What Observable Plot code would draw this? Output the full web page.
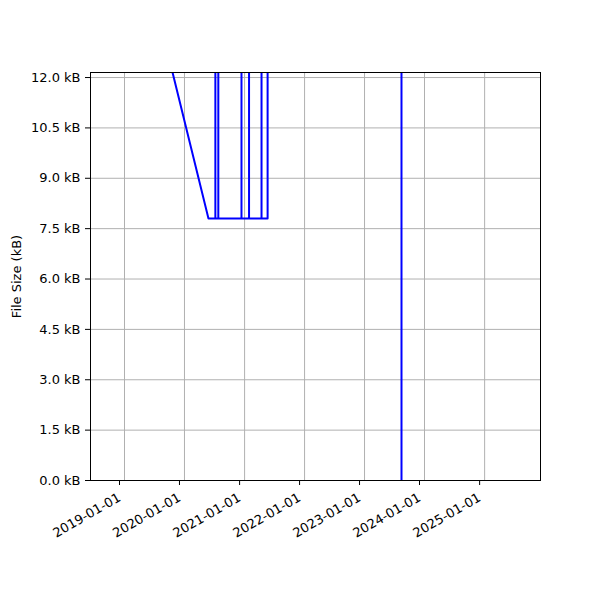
<!DOCTYPE html>
<html>
<head>
<meta charset="utf-8">
<script src="https://cdn.jsdelivr.net/npm/d3@7"></script>
<script src="https://cdn.jsdelivr.net/npm/@observablehq/plot@0.6"></script>
<style>
  html, body { margin: 0; padding: 0; background: #fff; }
  #chart { width: 600px; height: 600px; }
</style>
</head>
<body>
<div id="chart"></div>
<script>
// Commit dates and file sizes (kB); very large values run off the top
const dates = ["2018-10-11","2020-05-26",
  "2020-07-07","2020-07-07","2020-07-07",
  "2020-07-25","2020-07-25","2020-07-25",
  "2020-12-13","2020-12-13","2020-12-13",
  "2021-01-28","2021-01-28","2021-01-28",
  "2021-04-14","2021-04-14","2021-04-14",
  "2021-05-21","2021-05-21","2023-08-14"];
const sizes = [19.6, 7.8,
  7.8, 1000, 7.8,
  7.8, 1000, 7.8,
  7.8, 1000, 7.8,
  7.8, 1000, 7.8,
  7.8, 1000, 7.8,
  7.8, 100000, 0];
const yTicks = [0, 1.5, 3, 4.5, 6, 7.5, 9, 10.5, 12];
const xTicks = ["2019-01-01","2020-01-01","2021-01-01","2022-01-01","2023-01-01","2024-01-01","2025-01-01"];
const xDomain = ["2018-06-08", "2025-12-07"];
const yDomain = [0, 12.15];

const data = dates.map((d, i) => ({date: new Date(d + "T00:00:00Z"), size: sizes[i]}));
const fmtDate = d3.utcFormat("%Y-%m-%d");

const chart = Plot.plot({
  width: 600,
  height: 600,
  marginLeft: 90,
  marginRight: 60,
  marginTop: 72,
  marginBottom: 120,
  style: {fontFamily: "'DejaVu Sans', sans-serif", fontSize: "13px", color: "black", background: "white"},
  x: {type: "utc", domain: xDomain.map(d => new Date(d + "T00:00:00Z"))},
  y: {domain: yDomain},
  marks: [
    Plot.gridX(xTicks.map(d => new Date(d + "T00:00:00Z")), {stroke: "#b0b0b0", strokeOpacity: 1, strokeWidth: 1}),
    Plot.gridY(yTicks, {stroke: "#b0b0b0", strokeOpacity: 1, strokeWidth: 1}),
    Plot.line(data, {x: "date", y: "size", stroke: "blue", strokeWidth: 2, clip: true}),
    Plot.frame({stroke: "black", strokeWidth: 1}),
    Plot.axisX(xTicks.map(d => new Date(d + "T00:00:00Z")), {
      tickFormat: fmtDate, tickRotate: -30, tickSize: 5, tickPadding: 11, dx: -5, label: null, fontSize: 13
    }),
    Plot.axisY(yTicks, {
      tickFormat: d => d.toFixed(1) + " kB", tickSize: 5, tickPadding: 5, fontSize: 13,
      label: null
    }),
    Plot.axisY({
      ticks: [], tickSize: 0, label: "File Size (kB)", labelAnchor: "center", labelArrow: "none", labelOffset: 79, fontSize: 13
    })
  ]
});
document.getElementById("chart").appendChild(chart);
</script>
</body>
</html>
